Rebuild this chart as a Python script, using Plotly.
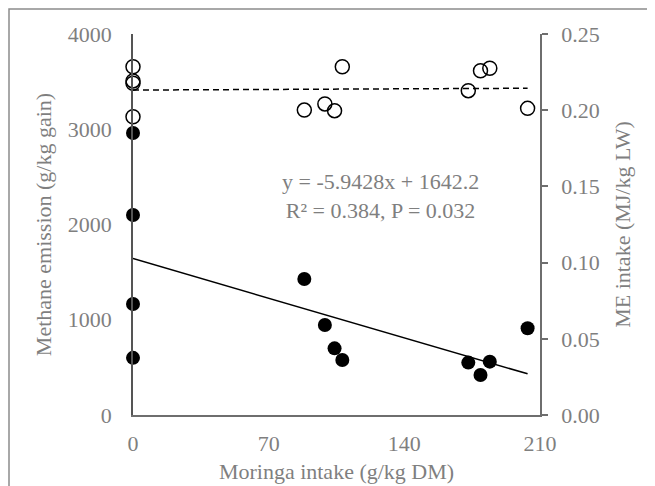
import plotly.graph_objects as go

# Data
moringa_x = [0, 0, 0, 0, 88.4, 99, 104, 108, 173, 179.3, 184.1, 203.6]
methane = [2960, 2100, 1165, 600, 1428, 945, 700, 577, 550, 420, 560, 910]
me_x = [0, 0, 0, 0, 88.4, 99, 104, 108, 173, 179.3, 184.1, 203.6]
me_intake = [0.2285, 0.2192, 0.2177, 0.1957, 0.2001, 0.2041, 0.1997, 0.2285, 0.2128, 0.2259, 0.2275, 0.2012]
slope, intercept = -5.9428, 1642.2
fit_x = [0, 203.6]
me_trend_x = [0, 203.6]
me_trend_y = [0.2132, 0.2144]
x_ticks = [0, 70, 140, 210]
y1_ticks = [0, 1000, 2000, 3000, 4000]
y2_ticks = [0.00, 0.05, 0.10, 0.15, 0.20, 0.25]

FONT = "Liberation Serif, Times New Roman, serif"
GRAY = "#7f7f7f"
FS = 22

fig = go.Figure()
fig.add_trace(go.Scatter(x=fit_x, y=[slope * v + intercept for v in fit_x], mode="lines",
                         line=dict(color="black", width=1.5), showlegend=False, hoverinfo="skip"))
fig.add_trace(go.Scatter(x=moringa_x, y=methane, mode="markers", cliponaxis=False,
                         marker=dict(size=14, color="black"), showlegend=False))
fig.add_trace(go.Scatter(x=me_trend_x, y=me_trend_y, mode="lines", yaxis="y2",
                         line=dict(color="black", width=1.5, dash="6px,4px"), showlegend=False,
                         hoverinfo="skip"))
fig.add_trace(go.Scatter(x=me_x, y=me_intake, mode="markers", yaxis="y2", cliponaxis=False,
                         marker=dict(size=14, color="rgba(255,255,255,0)",
                                     line=dict(color="black", width=1.5)), showlegend=False))

fig.add_annotation(text="y = -5.9428x + 1642.2<br>R² = 0.384, P = 0.032",
                   x=127.5, y=2300, xref="x", yref="y", showarrow=False, align="center",
                   font=dict(family=FONT, size=FS, color=GRAY))

# Frame around the figure
fig.add_shape(type="rect", xref="paper", yref="paper", x0=(9 - 133) / 407, x1=1.6,
              y0=-0.5, y1=(415 - 9) / 381, line=dict(color="#8c8c8c", width=1.5))

fig.update_layout(
    width=655, height=486, margin=dict(l=125, r=123, t=26, b=79, autoexpand=False),
    paper_bgcolor="white", plot_bgcolor="white",
    font=dict(family=FONT, size=FS, color=GRAY),
    xaxis=dict(range=[0, 210], tickvals=x_ticks, showgrid=False, zeroline=False,
               showline=True, linecolor="#6e6e6e", linewidth=1.5, ticks="",
               ticklabelstandoff=8, automargin=False,
               title=dict(text="Moringa intake (g/kg DM)", standoff=8,
                          font=dict(family=FONT, size=FS, color=GRAY))),
    yaxis=dict(range=[0, 4000], tickvals=y1_ticks, showgrid=False, zeroline=False,
               showline=True, linecolor="#555555", linewidth=1.5, ticks="",
               ticklabelstandoff=15, automargin=False,
               title=dict(text="Methane emission (g/kg gain)", standoff=10,
                          font=dict(family=FONT, size=FS, color=GRAY))),
    yaxis2=dict(range=[0, 0.25], tickvals=y2_ticks, tickformat=".2f", overlaying="y",
                side="right", showgrid=False, zeroline=False, showline=True,
                linecolor="#6e6e6e", linewidth=1.5, ticks="outside", ticklen=6,
                tickcolor="#6e6e6e", tickwidth=1.5, ticklabelstandoff=9, automargin=False,
                title=dict(text="ME intake (MJ/kg LW)", standoff=16,
                           font=dict(family=FONT, size=FS, color=GRAY))),
)

fig.write_html("out.html")
